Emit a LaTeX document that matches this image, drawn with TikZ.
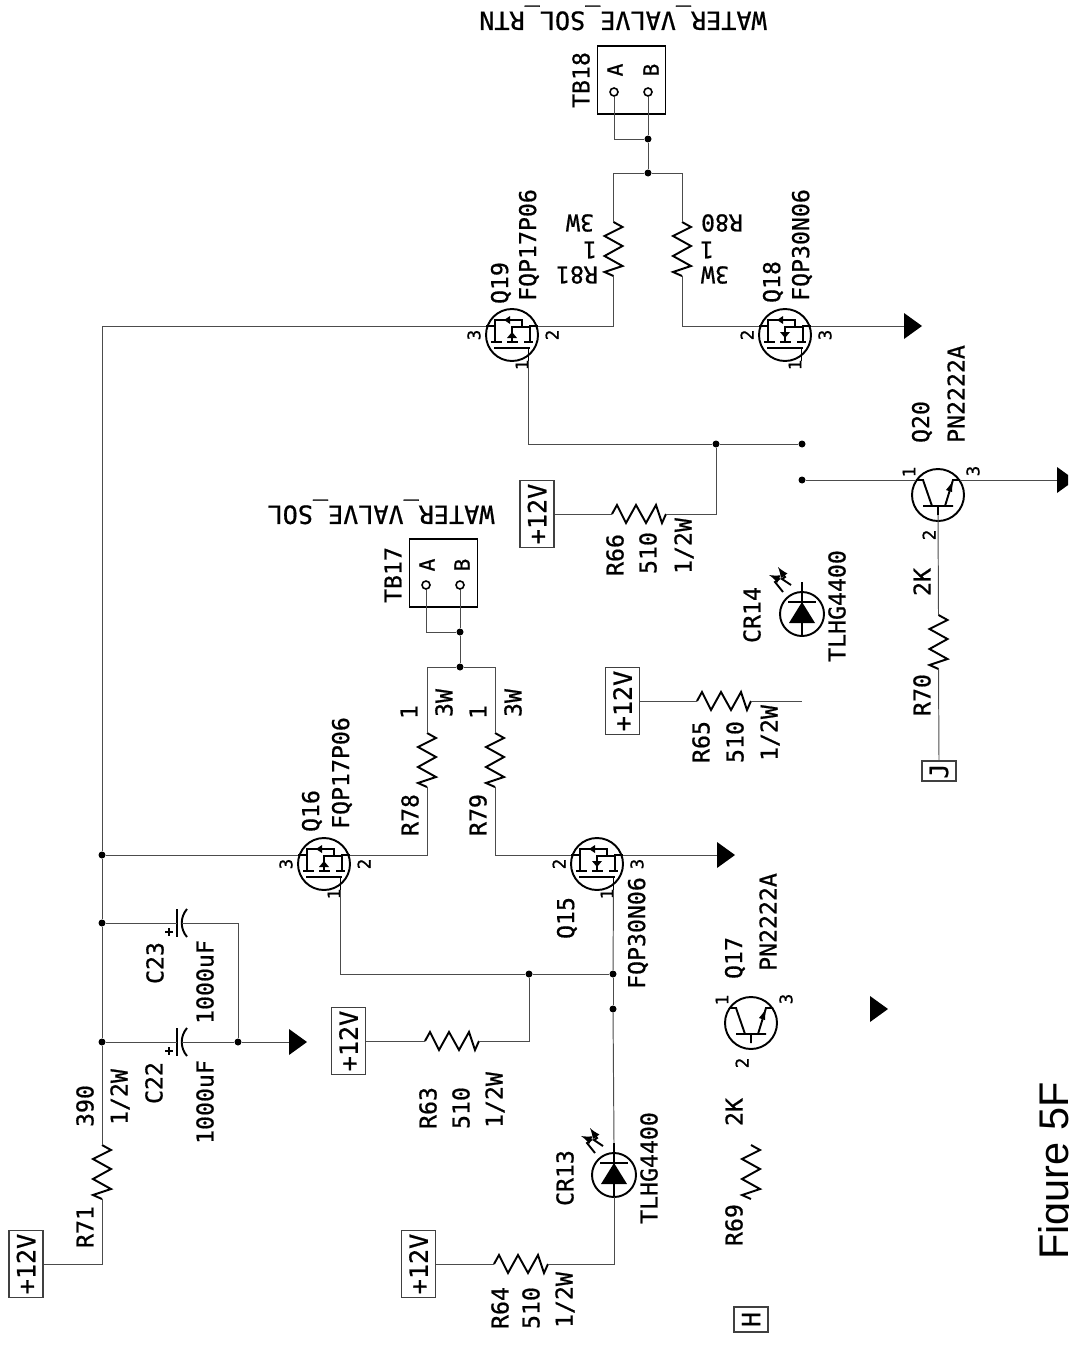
\documentclass[tikz,border=0pt]{standalone}
\usepackage{fontspec}
\setmainfont{Liberation Sans}
\newfontfamily\schfont{DejaVu Sans Mono}[FakeBold=0.7]

\newcommand{\lblfont}{\fontsize{13.2}{14}\selectfont\schfont}
\newcommand{\bigfont}{\fontsize{14.3}{15}\selectfont\schfont}
\newcommand{\pinfont}{\fontsize{10}{11}\selectfont\schfont}
\newcommand{\tbfont}{\fontsize{12}{13}\selectfont\schfont}

\tikzset{
    wire/.style={line width=0.55pt, black!70},
    symb/.style={line width=1.1pt, black},
    lbl/.style={rotate=90, font=\lblfont},
    lblr/.style={rotate=180, font=\lblfont},
    lblw/.style={rotate=180, font=\bigfont},
    pinlbl/.style={rotate=90, font=\pinfont},
    tblbl/.style={rotate=90, font=\tbfont},
    junction/.style={circle, fill=black, minimum size=0.14cm, inner sep=0pt},
    pwrbox/.style={rotate=90, draw=black!75, line width=0.6pt, font=\bigfont, minimum width=1.34cm, minimum height=0.68cm, inner sep=0pt},
    tagbox/.style={rotate=90, draw=black!75, line width=0.6pt, font=\bigfont, minimum height=0.68cm, inner sep=0pt},
    tbbox/.style={draw, line width=1.1pt, minimum size=1.36cm, inner sep=0pt},
    tbpin/.style={circle, draw, line width=0.9pt, fill=white, minimum size=0.16cm, inner sep=0pt},
    pics/resistor/.style={code={
        \coordinate (-a) at (0,0);
        \coordinate (-b) at (0,54);
        \draw[symb, line join=miter] (-a) -- (9,5) -- (-9,14) -- (9,24) -- (-9,34) -- (9,44) -- (-9,50) -- (-b);
    }},
    pics/mosfet/.style n args={3}{code={
        \coordinate (-s) at (-26,-9);
        \coordinate (-d) at (26,-9);
        \coordinate (-g) at (16.5,26);
        \draw[symb] (0,0) circle (26);
        \draw[symb] (-26,-9) -- (-17,-9) (-17,7) -- (-17,-15) -- (10,-15) -- (10,-8) -- (0,-8) -- (0,7);
        \draw[symb] (10,-8) -- (18,-8) -- (18,7) -- (18,-9) -- (26,-9);
        \draw[symb] (-21,7) -- (-10,7) (-5,7) -- (6,7) (12,7) -- (21,7) (-18,13) -- (18,13) (16.5,13) -- (16.5,26);
        \fill (-8,-15) -- (-2,-19) -- (-2,-11) -- cycle;
        \fill (0,#3) -- (-5,-#3) -- (5,-#3) -- cycle;
        \node[pinlbl] (-pa) at (-38,0) {#1};
        \node[pinlbl] (-pb) at (40,0) {#2};
        \node[pinlbl] (-pc) at (10,30) {1};
    }},
    pics/bjt/.style={code={
        \coordinate (-c) at (-22,-15);
        \coordinate (-e) at (22,-15);
        \coordinate (-b) at (0,20);
        \draw[symb] (0,0) circle (26);
        \draw[symb] (-22,-15) -- (-15,-15) -- (-6,11) (-15,11) -- (15,11) (7,11) -- (15,-15) -- (22,-15) (0,11) -- (0,20);
        \fill (14.5,-13) -- (8,-5) -- (14,-3) -- cycle;
        \node[pinlbl] (-pa) at (-29,-23) {1};
        \node[pinlbl] (-pb) at (35,-24) {3};
        \node[pinlbl] (-pc) at (-9,40) {2};
    }},
    pics/ledsym/.style={code={
        \coordinate (-a) at (0,-32);
        \coordinate (-b) at (0,22);
        \draw[symb] (0,0) circle (22);
        \draw[symb] (-a) -- (-b) (-14,-12) -- (14,-12);
        \fill (0,-12) -- (-13,9) -- (13,9) -- cycle;
        \draw[symb, <-, >=latex] (-33,-39) -- (-23,-35) -- (-27,-32) -- (-19,-22);
        \draw[symb, <-, >=latex] (-24,-47) -- (-17,-37) -- (-20,-35) -- (-11,-29);
    }},
    pics/polcap/.style={code={
        \coordinate (-a) at (0,0);
        \coordinate (-b) at (5,0);
        \draw[symb] (0,-14) -- (0,14);
        \draw[symb] (10,-14) .. controls (3,-6) and (3,6) .. (10,14);
        \draw[symb] (-12,9) -- (-4,9) (-8,5) -- (-8,13);
    }},
    pics/gndarrow/.style={code={
        \coordinate (-a) at (0,0);
        \fill (0,-13) -- (18,0) -- (0,13) -- cycle;
    }},
}

\begin{document}
\begin{tikzpicture}[x=0.02cm, y=-0.02cm, every node/.style={inner sep=0pt}]

    \useasboundingbox (0,0) rectangle (1068,1345);
    \clip (0,0) rectangle (1068,1345);

    % Morsettiere
    \node[tbbox] (tb18) at (631.5,80) {};
    \node[tbpin] (tb18a) at (614,92) {};
    \node[tbpin] (tb18b) at (648,92) {};
    \node[tbbox] (tb17) at (443.5,573) {};
    \node[tbpin] (tb17a) at (426,585) {};
    \node[tbpin] (tb17b) at (460,585) {};

    % Alimentazioni e connettori
    \node[pwrbox] (p71) at (26,1264) {+12V};
    \node[pwrbox] (p64) at (418.5,1264) {+12V};
    \node[pwrbox] (p63) at (348.5,1041) {+12V};
    \node[pwrbox] (p66) at (537,514) {+12V};
    \node[pwrbox] (p65) at (622.5,701) {+12V};
    \node[tagbox, minimum width=0.4cm] (conj) at (939,771) {J};
    \node[tagbox, minimum width=0.5cm] (conh) at (751,1319.5) {H};

    % Componenti
    \pic (r81) at (613.5,222) {resistor};
    \pic (r80) at (682,222) {resistor};
    \pic (r78) at (427,733) {resistor};
    \pic (r79) at (495,733) {resistor};
    \pic (r71) at (102,1145) {resistor};
    \pic (r70) at (938.5,615) {resistor};
    \pic (r69) at (751,1145) {resistor};
    \pic[rotate=90] (r66) at (612,514) {resistor};
    \pic[rotate=90] (r65) at (697,701) {resistor};
    \pic[rotate=90] (r63) at (425,1041) {resistor};
    \pic[rotate=90] (r64) at (494,1264) {resistor};
    \pic (q19) at (512,335) {mosfet={3}{2}{-3}};
    \pic (q18) at (785,335) {mosfet={2}{3}{3}};
    \pic (q16) at (324,864) {mosfet={3}{2}{-3}};
    \pic (q15) at (597,864) {mosfet={2}{3}{3}};
    \pic (q20) at (938,495) {bjt};
    \pic (q17) at (751,1023) {bjt};
    \pic (cr13) at (614,1175) {ledsym};
    \pic (cr14) at (802,614) {ledsym};
    \pic (c23) at (177,923) {polcap};
    \pic (c22) at (177,1042) {polcap};
    \pic (g18) at (904,326) {gndarrow};
    \pic (g15) at (717,855) {gndarrow};
    \pic (g22) at (289,1042) {gndarrow};
    \pic (g20) at (1057,480) {gndarrow};
    \pic (g17) at (870,1009) {gndarrow};

    % Giunzioni
    \node[junction] (j1) at (648,139) {};
    \node[junction] (j2) at (648,173) {};
    \node[junction] (j3) at (460,632) {};
    \node[junction] (j4) at (460,667) {};
    \node[junction] (j5) at (102,855) {};
    \node[junction] (j6) at (102,923) {};
    \node[junction] (j7) at (102,1042) {};
    \node[junction] (j8) at (238,1042) {};
    \node[junction] (j9) at (529,974) {};
    \node[junction] (j10) at (613,974) {};
    \node[junction] (j11) at (613,1009) {};
    \node[junction] (j12) at (716,444) {};
    \node[junction] (j13) at (802,444) {};
    \node[junction] (j14) at (802,480) {};
    \coordinate (c1) at (102,326);
    \coordinate (c2) at (802,701);

    % Fili
    \draw[wire] (tb18a) |- (j1);
    \draw[wire] (tb18b) -- (j1);
    \draw[wire] (j1) -- (j2);
    \draw[wire] (r81-a) |- (j2);
    \draw[wire] (r80-a) |- (j2);
    \draw[wire] (r81-b) |- (q19-d);
    \draw[wire] (r80-b) |- (q18-s);
    \draw[wire] (q18-d) -- (g18-a);
    \draw[wire] (tb17a) |- (j3);
    \draw[wire] (tb17b) -- (j3);
    \draw[wire] (j3) -- (j4);
    \draw[wire] (r78-a) |- (j4);
    \draw[wire] (r79-a) |- (j4);
    \draw[wire] (r78-b) |- (q16-d);
    \draw[wire] (r79-b) |- (q15-s);
    \draw[wire] (q15-d) -- (g15-a);
    \draw[wire] (p71.south) -| (r71-b);
    \draw[wire] (r71-a) -- (j7);
    \draw[wire] (j7) -- (j6);
    \draw[wire] (j6) -- (j5);
    \draw[wire] (j5) -- (c1);
    \draw[wire] (c1) -- (q19-s);
    \draw[wire] (j5) -- (q16-s);
    \draw[wire] (j6) -- (c23-a);
    \draw[wire] (c23-b) -| (j8);
    \draw[wire] (j7) -- (c22-a);
    \draw[wire] (c22-b) -- (j8);
    \draw[wire] (j8) -- (g22-a);
    \draw[wire] (q16-g) |- (j9);
    \draw[wire] (j9) -- (j10);
    \draw[wire] (q15-g) -- (j10);
    \draw[wire] (j10) -- (j11);
    \draw[wire] (j11) -- (cr13-a);
    \draw[wire] (cr13-b) |- (r64-b);
    \draw[wire] (r64-a) -- (p64.south);
    \draw[wire] (j9) |- (r63-b);
    \draw[wire] (r63-a) -- (p63.south);
    \draw[wire] (q19-g) |- (j12);
    \draw[wire] (j12) -- (j13);
    \draw[wire] (j12) |- (r66-b);
    \draw[wire] (r66-a) -- (p66.south);
    \draw[wire] (p65.south) -- (r65-a);
    \draw[wire] (r65-b) -- (c2);
    \draw[wire] (j14) -- (q20-c);
    \draw[wire] (q20-e) -- (g20-a);
    \draw[wire] (q20-b) -- (r70-a);
    \draw[wire] (r70-b) -- (conj.east);

    % Scritte
    \node[lblw] (t1) at (623,18) {WATER\_VALVE\_SOL\_RTN};
    \node[lblw] (t2) at (381,512) {WATER\_VALVE\_SOL};
    \node[lbl] (t3) at (581,80) {TB18};
    \node[lbl] (t4) at (393,575) {TB17};
    \node[tblbl] (t5) at (615,70) {A};
    \node[tblbl] (t6) at (651,70) {B};
    \node[tblbl] (t7) at (427,565) {A};
    \node[tblbl] (t8) at (462,565) {B};
    \node[lbl] (t9) at (501,283) {Q19};
    \node[lbl] (t10) at (529,245) {FQP17P06};
    \node[lbl] (t11) at (773,282) {Q18};
    \node[lbl] (t12) at (802,245) {FQP30N06};
    \node[lblr] (t13) at (577,275) {R81};
    \node[lblr] (t14) at (590,250) {1};
    \node[lblr] (t15) at (580,223) {3W};
    \node[lblr] (t16) at (722,223) {R80};
    \node[lblr] (t17) at (707,250) {1};
    \node[lblr] (t18) at (715,275) {3W};
    \node[lbl] (t19) at (312,811) {Q16};
    \node[lbl] (t20) at (342,773) {FQP17P06};
    \node[lbl] (t21) at (410,815) {R78};
    \node[lbl] (t22) at (409,712) {1};
    \node[lbl] (t23) at (444,703) {3W};
    \node[lbl] (t24) at (478,815) {R79};
    \node[lbl] (t25) at (478,712) {1};
    \node[lbl] (t26) at (513,703) {3W};
    \node[lbl] (t27) at (567,918) {Q15};
    \node[lbl] (t28) at (638,933) {FQP30N06};
    \node[lbl] (t29) at (735,958) {Q17};
    \node[lbl] (t30) at (768,922) {PN2222A};
    \node[lbl] (t31) at (922,422) {Q20};
    \node[lbl] (t32) at (956,394) {PN2222A};
    \node[lbl] (t33) at (85,1227) {R71};
    \node[lbl] (t34) at (85,1106) {390};
    \node[lbl] (t35) at (120,1097) {1/2W};
    \node[lbl] (t36) at (154,1083) {C22};
    \node[lbl] (t37) at (205,1102) {1000uF};
    \node[lbl] (t38) at (155,963) {C23};
    \node[lbl] (t39) at (205,982) {1000uF};
    \node[lbl] (t40) at (428,1108) {R63};
    \node[lbl] (t41) at (461,1108) {510};
    \node[lbl] (t42) at (495,1100) {1/2W};
    \node[lbl] (t43) at (500,1308) {R64};
    \node[lbl] (t44) at (531,1308) {510};
    \node[lbl] (t45) at (565,1300) {1/2W};
    \node[lbl] (t46) at (701,742) {R65};
    \node[lbl] (t47) at (735,742) {510};
    \node[lbl] (t48) at (770,733) {1/2W};
    \node[lbl] (t49) at (615,555) {R66};
    \node[lbl] (t50) at (648,553) {510};
    \node[lbl] (t51) at (684,546) {1/2W};
    \node[lbl] (t52) at (565,1178) {CR13};
    \node[lbl] (t53) at (649,1168) {TLHG4400};
    \node[lbl] (t54) at (752,615) {CR14};
    \node[lbl] (t55) at (837,606) {TLHG4400};
    \node[lbl] (t56) at (734,1225) {R69};
    \node[lbl] (t57) at (734,1112) {2K};
    \node[lbl] (t58) at (922,695) {R70};
    \node[lbl] (t59) at (922,582) {2K};
    \node[rotate=90, anchor=base, font=\fontsize{23.6}{25}\selectfont] (fig) at (1068,1171) {Figure 5F};
\end{tikzpicture}
\end{document}
